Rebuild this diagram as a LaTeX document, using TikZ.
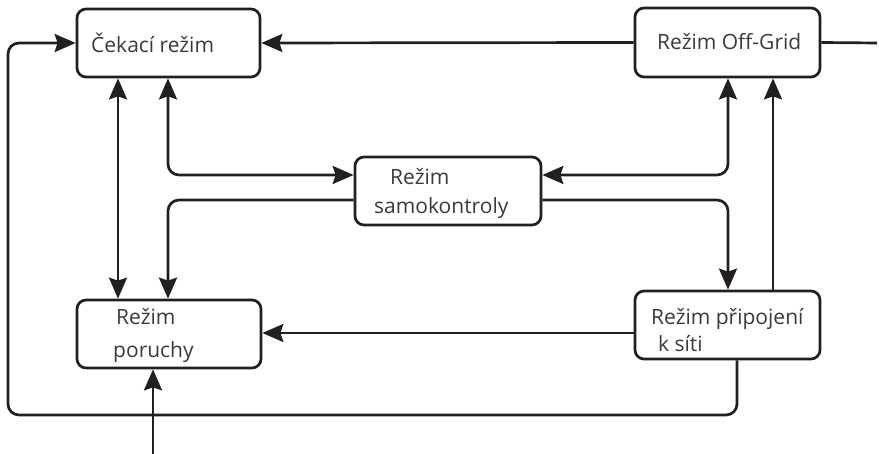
\documentclass[tikz,border=0pt]{standalone}
\usepackage{fontspec}
\setmainfont{Open Sans}
\usetikzlibrary{arrows.meta}
\definecolor{txt}{HTML}{3A3A3A}
\definecolor{ln}{HTML}{231F20}
\begin{document}
\begin{tikzpicture}[x=1pt,y=-1pt,
  modebox/.style={draw=ln,line width=2.7pt,rounded corners=9pt,inner sep=0pt},
  lbl/.style={anchor=base west,inner sep=0pt,text=txt,font=\fontsize{21pt}{24pt}\selectfont},
  conn/.style={draw=ln,line width=2.7pt,rounded corners=11pt},
  tip/.style={conn,-{Stealth[length=21pt,width=18pt,inset=3pt]}},
  tips/.style={conn,{Stealth[length=21pt,width=18pt,inset=3pt]}-{Stealth[length=21pt,width=18pt,inset=3pt]}}]
\useasboundingbox (0,0) rectangle (879,454);
% boxes
\node[modebox,minimum width=183pt,minimum height=68pt] (cek) at (168.5,43) {};
\node[modebox,minimum width=185pt,minimum height=69pt] (og) at (727.5,42.5) {};
\node[modebox,minimum width=186pt,minimum height=68pt] (samo) at (448,191) {};
\node[modebox,minimum width=184pt,minimum height=68pt] (por) at (169,334) {};
\node[modebox,minimum width=185pt,minimum height=68pt] (pri) at (727.5,325) {};
% texts
\node[lbl] (tcek) at (91,53) {Čekací režim};
\node[lbl] (tog) at (657,50) {Režim Off-Grid};
\node[lbl] (tsamo1) at (390,185) {Režim};
\node[lbl] (tsamo2) at (374,214) {samokontroly};
\node[lbl] (tpor1) at (116,325) {Režim};
\node[lbl] (tpor2) at (113,358) {poruchy};
\node[lbl] (tpri1) at (651,325) {Režim připojení};
\node[lbl] (tpri2) at (658,352) {k síti};
% helper coordinates
\coordinate (xa) at (118,0);
\coordinate (xb) at (168,0);
\coordinate (xc) at (728,0);
\coordinate (xd) at (773,0);
\coordinate (xe) at (153,0);
\coordinate (xf) at (737,0);
\coordinate (rightend) at (877,43);
\coordinate (bottomend) at (153,454);
\coordinate (loopbr) at (737,415);
\coordinate (loopbl) at (8,415);
\coordinate (looptl) at (8,43);
% connectors
\draw[tip] (og.west) -- (cek.east);
\draw[conn] (og.east) -- (rightend);
\draw[tip] (pri.south -| xf) -- (loopbr) -- (loopbl) -- (looptl) -- (cek.west);
\draw[tips] (cek.south -| xa) -- (por.north -| xa);
\draw[tips] (cek.south -| xb) |- ([yshift=16pt]samo.west);
\draw[tip] ([yshift=-9pt]samo.west) -| (por.north -| xb);
\draw[tips] (og.south -| xc) |- ([yshift=16pt]samo.east);
\draw[tip] ([yshift=-9pt]samo.east) -| (pri.north -| xc);
\draw[tip] (pri.north -| xd) -- (og.south -| xd);
\draw[tip] ([yshift=-8pt]pri.west) -- ([yshift=-8pt]pri.west -| por.east);
\draw[tip] (bottomend) -- (por.south -| xe);
\end{tikzpicture}
\end{document}
